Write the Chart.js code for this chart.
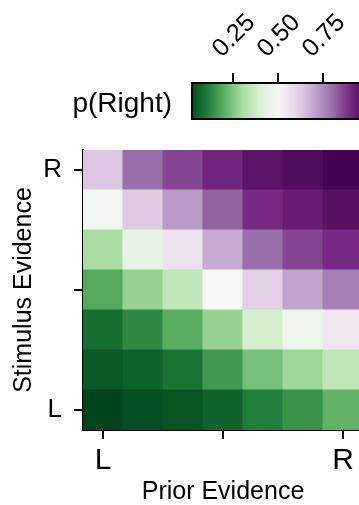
<!DOCTYPE html>
<html>
<head>
<meta charset="utf-8">
<script src="https://cdn.jsdelivr.net/npm/chart.js@4/dist/chart.umd.min.js"></script>
<style>
  html, body { margin: 0; padding: 0; background: #fff; overflow: hidden; }
  #wrap { position: relative; width: 359px; height: 505px; overflow: hidden; }
  canvas { position: absolute; left: 0; top: 0; }
</style>
</head>
<body>
<div id="wrap">
  <canvas id="heat" width="400" height="505"></canvas>
  <canvas id="cbar" width="400" height="130"></canvas>
</div>
<script>
// Data: p(Right) for each prior level (columns, L -> R), one array per stimulus level
const priorLevels = ['L', '', '', '', '', '', 'R'];
const xTickIdx = [0, 3, 6];

const stimL3 = [0.00, 0.02, 0.03, 0.06, 0.11, 0.15, 0.21];
const stimL2 = [0.04, 0.06, 0.09, 0.16, 0.24, 0.29, 0.35];
const stimL1 = [0.08, 0.13, 0.20, 0.28, 0.39, 0.47, 0.55];
const stim0  = [0.19, 0.28, 0.35, 0.50, 0.61, 0.70, 0.77];
const stimR1 = [0.31, 0.45, 0.56, 0.69, 0.80, 0.86, 0.90];
const stimR2 = [0.48, 0.62, 0.72, 0.82, 0.90, 0.93, 0.96];
const stimR3 = [0.63, 0.80, 0.86, 0.91, 0.95, 0.97, 0.99];
const stimRows = [stimL3, stimL2, stimL1, stim0, stimR1, stimR2, stimR3]; // bottom -> top

const yTickPos = [0.5, 3.5, 6.5];
const yTickLabels = ['L', '', 'R'];

const cbMin = 0.022;
const cbMax = 0.978;
const cbTicks = [0.25, 0.50, 0.75];

// PRGn colormap
const prgn = ['#00441b','#1b7837','#5aae61','#a6dba0','#d9f0d3','#f7f7f7',
              '#e7d4e8','#c2a5cf','#9970ab','#762a83','#40004b'];

const hexToRgb = h => [1, 3, 5].map(i => parseInt(h.slice(i, i + 2), 16));

const colorFor = v => {
    const t = Math.max(0, Math.min(1, v)) * (prgn.length - 1);
    const i = Math.min(Math.floor(t), prgn.length - 2);
    const f = t - i;
    const a = hexToRgb(prgn[i]), b = hexToRgb(prgn[i + 1]);
    const c = a.map((x, k) => Math.round(x + (b[k] - x) * f));
    return `rgb(${c[0]},${c[1]},${c[2]})`;
};

const FONT = "'Liberation Sans', Arial, sans-serif";
Chart.defaults.font.family = FONT;
Chart.defaults.color = '#000';

// Heatmap as stacked unit bars
new Chart(document.getElementById('heat'), {
    type: 'bar',
    data: {
        labels: priorLevels,
        datasets: stimRows.map(row => ({
            data: row.map(() => 1),
            backgroundColor: row.map(colorFor),
            borderWidth: 0,
            barPercentage: 1,
            categoryPercentage: 1,
            inflateAmount: 0.5
        }))
    },
    options: {
        responsive: false,
        animation: false,
        layout: { padding: { left: 0, right: 37, top: 150, bottom: 0 } },
        plugins: { legend: { display: false }, tooltip: { enabled: false } },
        scales: {
            x: {
                stacked: true,
                afterFit: s => { s.height = 75; },
                grid: {
                    offset: false,
                    drawOnChartArea: false,
                    tickLength: 9,
                    lineWidth: 2,
                    color: ctx => xTickIdx.includes(ctx.index) ? '#000' : 'rgba(0,0,0,0)'
                },
                border: { display: true, color: '#000', width: 2 },
                ticks: {
                    autoSkip: false,
                    maxRotation: 0,
                    padding: 4,
                    font: { size: 30 },
                    callback: (v, i) => xTickIdx.includes(i) ? priorLevels[i] : ''
                },
                title: {
                    display: true,
                    text: 'Prior Evidence',
                    font: { size: 25, lineHeight: 1 },
                    padding: { top: 0, bottom: 0 }
                }
            },
            y: {
                stacked: true,
                min: 0,
                max: stimRows.length,
                afterFit: s => { s.width = 83; },
                afterBuildTicks: s => { s.ticks = yTickPos.map(v => ({ value: v })); },
                grid: { drawOnChartArea: false, tickLength: 9, lineWidth: 2, color: '#000' },
                border: { display: true, color: '#000', width: 2 },
                ticks: {
                    padding: 12,
                    font: { size: 26 },
                    callback: v => yTickLabels[yTickPos.indexOf(v)]
                },
                title: {
                    display: true,
                    text: 'Stimulus Evidence',
                    font: { size: 25, lineHeight: 1 },
                    padding: { top: 12, bottom: 0 }
                }
            }
        }
    }
});

// Colorbar
const colorbarPlugin = {
    id: 'colorbar',
    afterDraw(chart) {
        const { ctx, chartArea: a, scales: { x } } = chart;
        ctx.save();
        const g = ctx.createLinearGradient(a.left, 0, a.right, 0);
        g.addColorStop(0, colorFor(cbMin));
        prgn.forEach((c, i) => {
            const v = i / (prgn.length - 1);
            const off = (x.getPixelForValue(v) - a.left) / (a.right - a.left);
            if (off > 0 && off < 1) g.addColorStop(off, c);
        });
        g.addColorStop(1, colorFor(cbMax));
        ctx.fillStyle = g;
        ctx.fillRect(a.left, a.top, a.right - a.left, a.bottom - a.top);
        ctx.lineWidth = 2;
        ctx.strokeStyle = '#000';
        ctx.strokeRect(a.left, a.top, a.right - a.left, a.bottom - a.top);

        // rotated tick labels, centred over each tick
        ctx.fillStyle = '#000';
        ctx.font = `25px ${FONT}`;
        ctx.textAlign = 'center';
        ctx.textBaseline = 'middle';
        x.ticks.forEach(t => {
            ctx.save();
            ctx.translate(x.getPixelForValue(t.value) + 1, 36);
            ctx.rotate(-Math.PI / 4);
            ctx.fillText(t.value.toFixed(2), 0, 0);
            ctx.restore();
        });

        ctx.font = `28px ${FONT}`;
        ctx.textAlign = 'right';
        ctx.textBaseline = 'alphabetic';
        ctx.fillText('p(Right)', a.left - 20, 112);
        ctx.restore();
    }
};

new Chart(document.getElementById('cbar'), {
    type: 'scatter',
    data: { datasets: [] },
    options: {
        responsive: false,
        animation: false,
        layout: { padding: { left: 192, right: 36, top: 83, bottom: 11 } },
        plugins: { legend: { display: false }, tooltip: { enabled: false } },
        scales: {
            x: {
                type: 'linear',
                position: 'top',
                min: cbMin,
                max: cbMax,
                afterBuildTicks: s => { s.ticks = cbTicks.map(v => ({ value: v })); },
                afterFit: s => { s.height = 0; },
                grid: { drawOnChartArea: false, tickLength: 10, lineWidth: 2, color: '#000' },
                border: { display: false },
                ticks: { display: false }
            },
            y: { display: false }
        }
    },
    plugins: [colorbarPlugin]
});
</script>
</body>
</html>
